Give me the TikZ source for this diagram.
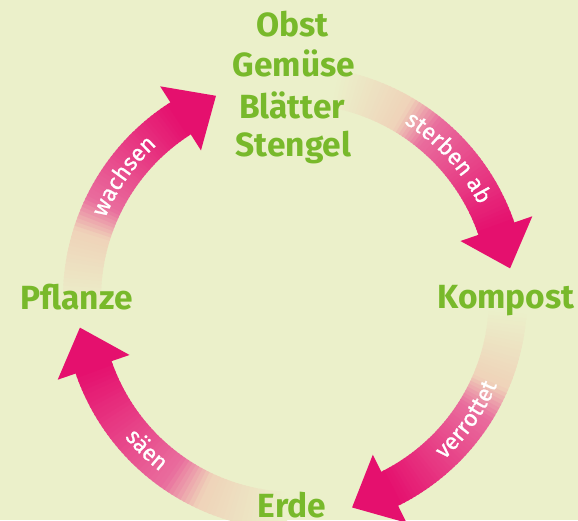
\documentclass[tikz,border=0pt]{standalone}
\usepackage{fontspec}
\setmainfont{Fira Sans}
\newfontfamily\shaftfont{Fira Sans}[FakeBold=0.9]
\usetikzlibrary{decorations.text,calc}

\definecolor{bgc}{HTML}{EBF0CA}
\definecolor{leafgreen}{HTML}{78B92B}
\definecolor{magentaend}{HTML}{E5106E}
\definecolor{pinkmid}{HTML}{E96C9D}
\definecolor{peach}{HTML}{EFD3B9}

\def\Rmid{213}   % radius of the arrow shafts
\def\Rout{232}
\def\Rin{194}

\tikzset{
  cyclelabel/.style={font=\fontsize{33.5}{33.5}\selectfont\bfseries, text=leafgreen,
                     anchor=base, inner sep=0pt},
  arctext/.style={decorate, decoration={text along path, text align=center,
                  text color=white, text={|\shaftfont\fontsize{23}{23}\selectfont|#1}}},
}

% shaft of a clockwise arrow from angle #1 to angle #2, shaded from the
% background colour to magenta, followed by its head
\newcommand\cyclearrow[2]{%
  \foreach \i in {0,...,59}{%
    \pgfmathsetmacro\aa{#1+(#2-#1)*\i/60}%
    \pgfmathsetmacro\ab{#1+(#2-#1)*(\i+1.4)/60}%
    \pgfmathsetmacro\tt{\i/59}%
    \pgfmathtruncatemacro\pA{min(100,max(0,\tt/0.33*100))}%
    \pgfmathtruncatemacro\pB{min(100,max(0,(\tt-0.33)/0.15*100))}%
    \pgfmathtruncatemacro\pC{min(100,max(0,(\tt-0.48)/0.52*100))}%
    \colorlet{segA}{peach!\pA!bgc}%
    \colorlet{segB}{pinkmid!\pB!segA}%
    \colorlet{segC}{magentaend!\pC!segB}%
    \fill[segC] (\aa:\Rout) arc[start angle=\aa, end angle=\ab, radius=\Rout]
      -- (\ab:\Rin) arc[start angle=\ab, end angle=\aa, radius=\Rin] -- cycle;
  }%
  \fill[magentaend] (#2:\Rmid-38) -- (#2:\Rmid+38)
    -- ($(#2:\Rmid)+(#2-90:42)$) -- cycle;
}

\begin{document}
\begin{tikzpicture}[x=1pt,y=1pt]
  \fill[bgc] (0,0) rectangle (578,520);
  \useasboundingbox (0,0) rectangle (578,520);

  \begin{scope}[shift={(295,222)}]
    \cyclearrow{183}{122.5}
    \cyclearrow{80}{19}
    \cyclearrow{-3}{-63.6}
    \cyclearrow{268}{199}

    % labels written along the shafts
    \path[arctext=wachsen] (174.6:206) arc[start angle=174.6, end angle=114.6, radius=206];
    \path[arctext=sterben ab] (72.4:206) arc[start angle=72.4, end angle=12.4, radius=206];
    \path[arctext=verrottet] (-65.3:220) arc[start angle=-65.3, end angle=-5.3, radius=220];
    \path[arctext=säen] (195.7:220) arc[start angle=195.7, end angle=255.7, radius=220];
  \end{scope}

  \node[cyclelabel] (obst)     at (292.5,483) {Obst};
  \node[cyclelabel] (gemuese)  at (294,443)   {Gemüse};
  \node[cyclelabel] (blaetter) at (292,401)   {Blätter};
  \node[cyclelabel] (stengel)  at (293.5,363) {Stengel};
  \node[cyclelabel] (pflanze)  at (76.5,211)  {Pflanze};
  \node[cyclelabel] (kompost)  at (506,212)   {Kompost};
  \node[cyclelabel] (erde)     at (292,3)     {Erde};
\end{tikzpicture}
\end{document}
